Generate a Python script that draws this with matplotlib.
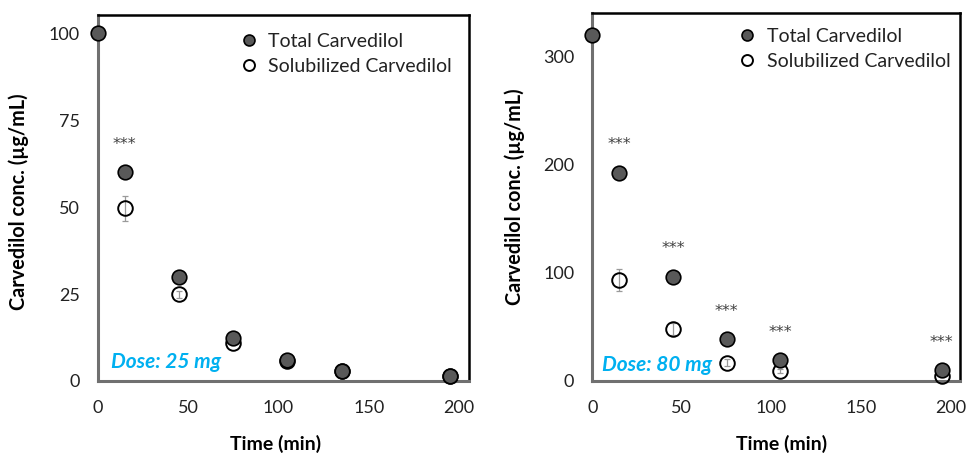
import matplotlib
matplotlib.use("Agg")
import matplotlib.pyplot as plt

plt.rcParams['font.family'] = ['Lato', 'DejaVu Sans']

# ---- data ----
time_total_25 = [0, 15, 45, 75, 105, 135, 195]
total_25 = [100, 60, 30, 12.3, 6, 3, 1.4]
time_sol_25 = [15, 45, 75, 105, 135, 195]
sol_25 = [49.6, 25, 10.8, 5.8, 2.8, 1.3]
sol_25_err = [3.6, 1.0, 0.5, 0.3, 0.2, 0.1]
sig_25 = [15]

time_total_80 = [0, 15, 45, 75, 105, 195]
total_80 = [320, 192.7, 96.5, 38.6, 19.4, 10.2]
time_sol_80 = [15, 45, 75, 105, 195]
sol_80 = [93.4, 47.8, 17.0, 9.3, 4.6]
sol_80_err = [10, 5.7, 3.0, 2.0, 1.0]
sig_80 = [15, 45, 75, 105, 195]

x_ticks = [0, 50, 100, 150, 200]
y_ticks_25 = [0, 25, 50, 75, 100]
y_ticks_80 = [0, 100, 200, 300]

labels = ["Total Carvedilol", "Solubilized Carvedilol"]
ylabel = "Carvedilol conc. (µg/mL)"
xlabel = "Time (min)"

fig = plt.figure(figsize=(9.66, 4.54), dpi=100)
ax1 = fig.add_axes([0.1011, 0.1608, 0.3844, 0.806])
ax2 = fig.add_axes([0.6132, 0.1608, 0.3809, 0.810])

FILL = '#595959'
BLUE = '#00b0f0'


def panel(ax, tt, tv, ts, sv, se, sig, yticks, ylim, dose, dose_xy, leg_xy, ylab_xy, xlab_xy):
    ax.errorbar(ts, sv, yerr=se, fmt='none', ecolor='#9a9a9a', elinewidth=0.9,
                capsize=2.5, capthick=0.9, zorder=2, clip_on=False)
    ax.plot(ts, sv, 'o', ms=10.5, mfc='none', mec='black', mew=1.4,
            zorder=3, clip_on=False, label=labels[1])
    ax.plot(tt, tv, 'o', ms=10.5, mfc=FILL, mec='black', mew=1.2,
            zorder=4, clip_on=False, label=labels[0])
    tmap = dict(zip(tt, tv))
    for t in sig:
        ax.annotate('***', xy=(t, tmap[t]), xytext=(0, 20), textcoords='offset points',
                    ha='center', va='center', fontsize=11.5, color='#404040',
                    family='DejaVu Sans')
    ax.set_xlim(0, 205.4)
    ax.set_ylim(*ylim)
    ax.set_xticks(x_ticks)
    ax.set_yticks(yticks)
    ax.tick_params(length=0, labelsize=13, colors='#222222')
    ax.tick_params(axis='x', pad=14)
    ax.tick_params(axis='y', pad=13)
    for s in ['left', 'bottom']:
        ax.spines[s].set_color('#707070')
        ax.spines[s].set_linewidth(2.2)
    for s in ['top', 'right']:
        ax.spines[s].set_color('black')
        ax.spines[s].set_linewidth(1.8)
    ax.set_ylabel(ylabel, fontsize=14.3, fontweight='bold')
    ax.yaxis.set_label_coords(*ylab_xy)
    ax.set_xlabel(xlabel, fontsize=14, fontweight='bold', va='top')
    ax.xaxis.set_label_coords(*xlab_xy)
    ax.text(dose_xy[0], dose_xy[1], dose, transform=ax.transAxes, color=BLUE,
            fontsize=15, fontweight='bold', fontstyle='italic', ha='left', va='center')
    h, l = ax.get_legend_handles_labels()
    hd = dict(zip(l, h))
    leg = ax.legend([hd[labels[0]], hd[labels[1]]], labels, loc='upper left',
                    bbox_to_anchor=leg_xy, frameon=False, borderaxespad=0, borderpad=0,
                    handlelength=1.0, handletextpad=0.5, labelspacing=0.4,
                    fontsize=14, markerscale=0.75)
    for t in leg.get_texts():
        t.set_color('#222222')


panel(ax1, time_total_25, total_25, time_sol_25, sol_25, sol_25_err, sig_25,
      y_ticks_25, (0, 105.2), "Dose: 25 mg", (0.036, 0.052), (0.3815, 0.951),
      (-0.185, 0.49), (0.48, -0.146))
panel(ax2, time_total_80, total_80, time_sol_80, sol_80, sol_80_err, sig_80,
      y_ticks_80, (0, 340), "Dose: 80 mg", (0.027, 0.0435), (0.395, 0.96),
      (-0.183, 0.502), (0.513, -0.146))

fig.savefig('out.png', dpi=100)
